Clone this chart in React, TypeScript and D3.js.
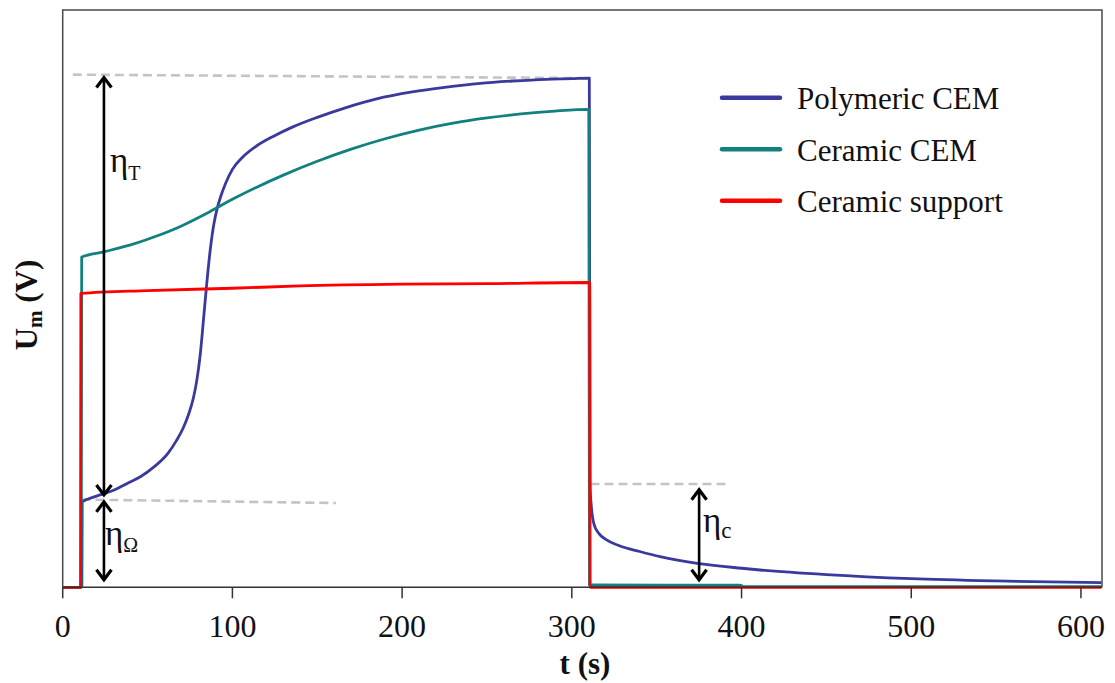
import * as d3 from "d3";

// time (s) and relative membrane voltage (no y ticks in the source, 0-100 scale)
const polyT = [
  0, 10.6, 11.3, 11.5, 15, 23, 30, 38, 46, 54, 62, 67, 71, 74, 77, 79, 81, 83,
  85, 87, 89, 91, 93, 96, 100, 106, 114, 124, 136, 150, 167, 185, 206, 225, 246,
  265, 285, 300, 310.3, 310.7, 311.5, 313, 316, 320, 328, 340, 352, 375, 400,
  411, 450, 500, 550, 612,
];
const polyU = [
  0, 0, 0.3, 14.8, 15.3, 16.1, 16.8, 18.0, 19.2, 20.9, 23.2, 25.4, 27.6, 29.8,
  32.8, 35.8, 40.2, 46.5, 53.0, 58.6, 62.8, 65.6, 67.6, 70.0, 72.4, 74.5, 76.4,
  78.1, 79.8, 81.4, 83.1, 84.6, 85.8, 86.6, 87.3, 87.7, 88.0, 88.1, 88.2, 17.9,
  14.0, 11.0, 9.3, 8.3, 7.2, 6.2, 5.3, 4.1, 3.3, 3.0, 2.2, 1.5, 1.1, 0.8,
];

const ceramT = [
  0, 10.9, 11.2, 24, 40, 55, 70, 85, 100, 115, 130, 150, 170, 190, 210, 230,
  250, 270, 290, 310, 310.4, 400, 400.3, 612,
];
const ceramU = [
  0, 0, 57.2, 58.1, 59.3, 60.8, 62.6, 64.8, 67.2, 69.4, 71.4, 73.8, 75.9, 77.7,
  79.2, 80.4, 81.3, 82.0, 82.5, 82.8, 0.4, 0.35, 0.1, 0.1,
];

const suppT = [0, 10.5, 10.7, 50, 100, 140, 200, 250, 310.5, 310.8, 612];
const suppU = [0, 0, 50.9, 51.4, 51.8, 52.2, 52.5, 52.6, 52.8, 0, 0];

const xTicks = [0, 100, 200, 300, 400, 500, 600];
const seriesNames = ["Polymeric CEM", "Ceramic CEM", "Ceramic support"];
const seriesColors = ["#3a3a9e", "#12807e", "#ff0000"];

// dashed guide lines: [t1, u1, t2, u2]
const guides = [
  [6, 88.8, 310, 88.2],
  [11, 15.2, 161, 14.6],
  [311, 17.9, 392, 17.9],
];
// double arrows: [t, uTop, uBottom]
const arrows = [
  [24.3, 88.3, 16.0],
  [24.3, 14.8, 1.3],
  [375, 16.9, 1.3],
];

const W = 1115;
const H = 683;
const x = d3.scaleLinear().domain([0, 612.4]).range([62.7, 1102]);
const y = d3.scaleLinear().domain([0, 100]).range([587.3, 10]);

const zip = (ts: number[], us: number[]) => ts.map((t, i) => [t, us[i]] as [number, number]);
const series = [zip(polyT, polyU), zip(ceramT, ceramU), zip(suppT, suppU)];

const line = d3
  .line<[number, number]>()
  .x((d) => x(d[0]))
  .y((d) => y(d[1]))
  .curve(d3.curveMonotoneX);

const FONT = "'Liberation Serif', 'Times New Roman', serif";

function DoubleArrow({ t, u1, u2 }: { t: number; u1: number; u2: number }) {
  const ax = x(t);
  const y1 = y(u1);
  const y2 = y(u2);
  const hw = 7.5;
  const hh = 10;
  return (
    <g stroke="#000" fill="none" strokeWidth={3.2}>
      <line x1={ax} x2={ax} y1={y1 + 1} y2={y2 - 1} strokeWidth={2.6} />
      <path d={`M${ax - hw},${y1 + hh} L${ax},${y1} L${ax + hw},${y1 + hh}`} />
      <path d={`M${ax - hw},${y2 - hh} L${ax},${y2} L${ax + hw},${y2 - hh}`} />
    </g>
  );
}

export default function App() {
  const left = x.range()[0];
  const right = x.range()[1];
  const top = y.range()[1];
  const bottom = y.range()[0];
  return (
    <svg
      width={W}
      height={H}
      style={{ position: "absolute", left: 0, top: 0, background: "#fff" }}
      fontFamily={FONT}
    >
      {/* guides */}
      {guides.map((g, i) => (
        <line
          key={i}
          x1={x(g[0])}
          y1={y(g[1])}
          x2={x(g[2])}
          y2={y(g[3])}
          stroke="#c4c4c4"
          strokeWidth={2.6}
          strokeDasharray="9,5"
        />
      ))}

      {/* series */}
      {series.map((s, i) => (
        <path
          key={i}
          d={line(s) || ""}
          fill="none"
          stroke={seriesColors[i]}
          strokeWidth={2.8}
          strokeLinejoin="round"
        />
      ))}

      {/* frame */}
      <path
        d={`M${left},${bottom} L${left},${top} L${right},${top} L${right},${bottom}`}
        fill="none"
        stroke="#4a4a4a"
        strokeWidth={1.5}
      />
      <line x1={left} x2={right} y1={bottom} y2={bottom} stroke="#333" strokeWidth={1.5} />
      {xTicks.map((t) => (
        <g key={t}>
          <line x1={x(t)} x2={x(t)} y1={bottom} y2={bottom + 11} stroke="#333" strokeWidth={1.5} />
          <text x={x(t)} y={637} textAnchor="middle" fontSize={32} fill="#111">
            {t}
          </text>
        </g>
      ))}

      {/* arrows */}
      {arrows.map((a, i) => (
        <DoubleArrow key={i} t={a[0]} u1={a[1]} u2={a[2]} />
      ))}

      {/* eta labels */}
      <text x={110} y={172} fontSize={35} fill="#111">
        η<tspan fontSize={20} dy={8}>T</tspan>
      </text>
      <text x={105} y={545} fontSize={35} fill="#111">
        η<tspan fontSize={20} dy={7}>Ω</tspan>
      </text>
      <text x={703} y={532} fontSize={35} fill="#111">
        η<tspan fontSize={23} dy={6}>c</tspan>
      </text>

      {/* legend */}
      {seriesNames.map((n, i) => {
        const ly = 97.7 + i * 51.5;
        return (
          <g key={n}>
            <line
              x1={722}
              x2={780}
              y1={ly}
              y2={ly}
              stroke={seriesColors[i]}
              strokeWidth={4.5}
              strokeLinecap="round"
            />
            <text x={797} y={ly + 11.5} fontSize={31} fill="#111">
              {n}
            </text>
          </g>
        );
      })}

      {/* axis titles */}
      <text x={585} y={674} textAnchor="middle" fontSize={31} fontWeight="bold" fill="#111">
        t (s)
      </text>
      <text
        transform="translate(37,305) rotate(-90)"
        textAnchor="middle"
        fontSize={31}
        fontWeight="bold"
        fill="#111"
      >
        U<tspan fontSize={21} dy={5}>m</tspan>
        <tspan dy={-5}> (V)</tspan>
      </text>
    </svg>
  );
}
